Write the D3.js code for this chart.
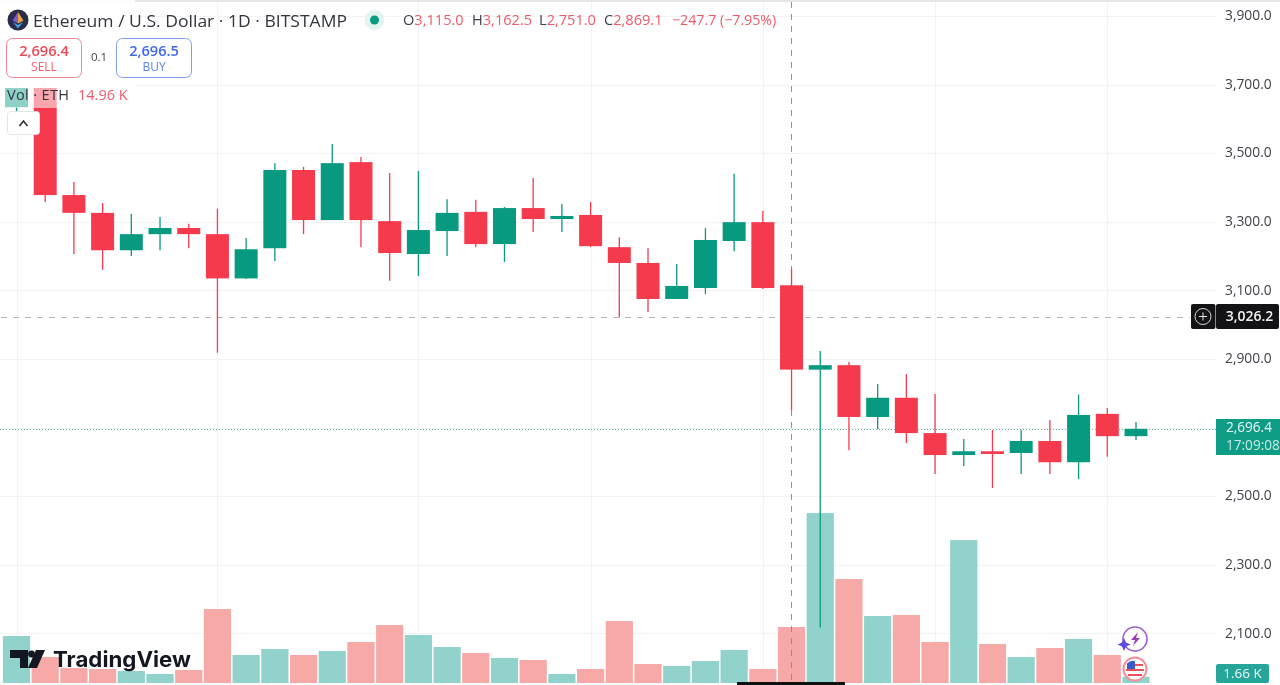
<!DOCTYPE html>
<html><head><meta charset="utf-8">
<style>html,body{margin:0;padding:0;background:#fff;overflow:hidden}svg{display:block;filter:blur(0.35px)}text{font-family:"Open Sans",sans-serif}</style>
<script src="https://cdn.jsdelivr.net/npm/d3@7"></script></head><body>
<svg id="c" width="1280" height="685"></svg>
<script>
const opens=[3634,3690,3378,3326,3217,3264,3282,3264,3135,3223,3451,3305,3474,3302,3206,3273,3329,3235,3340,3308,3320,3226,3180,3075,3107,3244,3299,3115,2869,2882,2731,2787,2684,2620,2631,2626,2661,2599,2740,2675];
const highs=[3719,3702,3416,3355,3323,3314,3294,3338,3253,3471,3460,3527,3489,3442,3448,3366,3364,3343,3428,3352,3358,3255,3223,3177,3282,3440,3332,3162.5,2923,2891,2827,2856,2798,2667,2693,2693,2722,2796,2757,2716];
const lows=[3607,3357,3206,3160,3200,3217,3223,2918,3133,3186,3264,3305,3226,3128,3142,3200,3226,3183,3270,3270,3226,3022,3037,3075,3089,3214,3104,2751,2117,2634,2696,2655,2565,2588,2524,2565,2565,2550,2615,2664];
const closes=[3690,3378,3326,3217,3264,3282,3264,3135,3220,3451,3305,3471,3305,3209,3276,3326,3235,3340,3308,3317,3229,3180,3075,3113,3247,3299,3107,2869.1,2882,2731,2787,2684,2620,2631,2623,2661,2599,2737,2675,2696.4];
const volumes=[12.55,6.94,4.0,3.74,3.2,2.4,3.47,19.76,7.48,9.08,7.48,8.54,10.95,15.49,12.82,9.61,8.01,6.68,6.14,2.4,3.74,16.55,5.07,4.54,5.87,8.81,3.74,14.96,45.4,27.77,17.89,18.16,10.95,38.18,10.41,6.94,9.35,11.75,7.48,1.66];
const priceTicks=[3900,3700,3500,3300,3100,2900,2700,2500,2300,2100];
const gridIdx=[0,7,14,20,26,32,38];
const lastPrice=2696.4, crossPrice=3026.2, crossIdx=27;

const RED="#f53a4e",GREEN="#089981",VRED="#f7a9a7",VGREEN="#92d2cc",TXT="#3f414b";
const svg=d3.select("#c");
const x=d3.scaleLinear().domain([0,39]).range([16.5,1136]);
const y=d3.scaleLinear().domain([3900,2100]).range([16,633.4]);
const v=d3.scaleLinear().domain([0,14.96]).range([683,627]);
const idx=d3.range(opens.length);
const up=i=>closes[i]>=opens[i];

// top hairline
svg.append("rect").attr("x",0).attr("y",0).attr("width",1280).attr("height",2).attr("fill","#e6e6e8");

// grid
const grid=svg.append("g").attr("stroke","#f3f3f4").attr("stroke-width",1);
grid.selectAll("line.h").data(priceTicks).join("line").attr("x1",0).attr("x2",1216)
 .attr("y1",d=>Math.round(y(d))+.5).attr("y2",d=>Math.round(y(d))+.5);
grid.selectAll("line.v").data(gridIdx).join("line").attr("x1",d=>Math.round(x(d))+.5).attr("x2",d=>Math.round(x(d))+.5).attr("y1",2).attr("y2",683);

// volume
svg.append("g").selectAll("rect").data(idx).join("rect")
 .attr("x",i=>x(i)-13.6).attr("width",27.2).attr("y",i=>v(volumes[i])).attr("height",i=>683-v(volumes[i]))
 .attr("fill",i=>up(i)?VGREEN:VRED);

// price axis
const axis=d3.axisRight(y).tickValues(priceTicks).tickSize(0).tickPadding(0).tickFormat(d3.format(",.1f"));
const ag=svg.append("g").attr("transform","translate(1225,0)").call(axis);
ag.select(".domain").remove();
ag.selectAll("text").attr("fill",TXT).style("font-size","13.8px").style("font-family",'"Open Sans",sans-serif').attr("dy","0.27em");

// crosshair and price lines (under candles)
svg.append("line").attr("x1",1).attr("x2",1190).attr("y1",317.5).attr("y2",317.5).attr("stroke","#b4b4b8").attr("stroke-dasharray","6 6");
svg.append("line").attr("x1",x(crossIdx)).attr("x2",x(crossIdx)).attr("y1",2).attr("y2",683).attr("stroke","#8f8f94").attr("stroke-dasharray","6 6");
svg.append("line").attr("x1",0).attr("x2",1216).attr("y1",Math.round(y(lastPrice))+.5).attr("y2",Math.round(y(lastPrice))+.5).attr("stroke","#5cbcae").attr("stroke-dasharray","1 2");

// candles
const cg=svg.append("g");
cg.selectAll("line").data(idx).join("line")
 .attr("x1",i=>x(i)).attr("x2",i=>x(i)).attr("y1",i=>y(highs[i])).attr("y2",i=>y(lows[i]))
 .attr("stroke",i=>up(i)?GREEN:RED).attr("stroke-width",1.3);
cg.selectAll("rect").data(idx).join("rect")
 .attr("x",i=>x(i)-11.5).attr("width",23)
 .attr("y",i=>y(Math.max(opens[i],closes[i])))
 .attr("height",i=>Math.max(1,Math.abs(y(opens[i])-y(closes[i]))))
 .attr("fill",i=>up(i)?GREEN:RED);

// legend wash
svg.append("rect").attr("x",0).attr("y",0).attr("width",135).attr("height",88).attr("fill","#fff").attr("fill-opacity",.9);
svg.append("rect").attr("x",0).attr("y",78).attr("width",135).attr("height",30).attr("fill","#fff").attr("fill-opacity",.55);

// header
const eth=svg.append("g");
eth.append("circle").attr("cx",18).attr("cy",20).attr("r",10.5).attr("fill","#2b2b4a");
eth.append("path").attr("d","M18 12 L23.5 20.5 L18 23.5 Z").attr("fill","#e8a33d");
eth.append("path").attr("d","M18 12 L12.5 20.5 L18 23.5 Z").attr("fill","#7b5bd6");
eth.append("path").attr("d","M12.8 22 L18 25 L23.2 22 L18 28.5 Z").attr("fill","#3fa7e0");
svg.append("text").attr("x",33).attr("y",27).attr("fill","#33353f").style("font-size","17px").attr("textLength",314).attr("lengthAdjust","spacingAndGlyphs").text("Ethereum / U.S. Dollar · 1D · BITSTAMP");
svg.append("circle").attr("cx",374.5).attr("cy",20).attr("r",10).attr("fill","#e3f3f0");
svg.append("circle").attr("cx",374.5).attr("cy",20).attr("r",4.5).attr("fill",GREEN);
const ohlc=[["O","3,115.0",403],["H","3,162.5",472],["L","2,751.0",539],["C","2,869.1",604]];
ohlc.forEach(([k,val,px])=>{
 const t=svg.append("text").attr("x",px).attr("y",25).style("font-size","14.6px");
 t.append("tspan").attr("fill",TXT).text(k);
 t.append("tspan").attr("fill","#ef5a68").text(val);
});
svg.append("text").attr("x",672).attr("y",25).attr("fill","#ef5a68").style("font-size","14.2px").text("−247.7 (−7.95%)");

// sell / buy
svg.append("rect").attr("x",6.5).attr("y",38.5).attr("width",75).attr("height",39).attr("rx",6).attr("fill","#fff").attr("stroke","#f4858f");
svg.append("text").attr("x",44).attr("y",56).attr("text-anchor","middle").attr("fill","#ef4655").style("font-size","14.6px").style("font-weight",600).text("2,696.4");
svg.append("text").attr("x",44).attr("y",71).attr("text-anchor","middle").attr("fill","#f2606d").style("font-size","12px").text("SELL");
svg.append("text").attr("x",99).attr("y",61).attr("text-anchor","middle").attr("fill",TXT).style("font-size","11.5px").text("0.1");
svg.append("rect").attr("x",116.5).attr("y",38.5).attr("width",75).attr("height",39).attr("rx",6).attr("fill","#fff").attr("stroke","#7f9cf0");
svg.append("text").attr("x",154).attr("y",56).attr("text-anchor","middle").attr("fill","#3f68e8").style("font-size","14.6px").style("font-weight",600).text("2,696.5");
svg.append("text").attr("x",154).attr("y",71).attr("text-anchor","middle").attr("fill","#5f83ee").style("font-size","12px").text("BUY");

// volume legend
svg.append("text").attr("x",7).attr("y",100).attr("fill","#33353f").style("font-size","14.5px").attr("textLength",62).attr("lengthAdjust","spacing").text("Vol · ETH");
svg.append("text").attr("x",78).attr("y",100).attr("fill","#ef5a68").style("font-size","14.5px").text("14.96 K");
svg.append("rect").attr("x",7.5).attr("y",111.5).attr("width",32).attr("height",23).attr("rx",3).attr("fill","#fff").attr("stroke","#e4e4e6");
svg.append("path").attr("d","M19.5 126 L23.5 121 L27.5 126").attr("fill","none").attr("stroke","#2e2e33").attr("stroke-width",1.6);

// price labels
svg.append("rect").attr("x",1191).attr("y",304).attr("width",24.5).attr("height",25).attr("rx",2).attr("fill","#131316");
svg.append("rect").attr("x",1216).attr("y",304).attr("width",63).attr("height",25).attr("rx",2).attr("fill","#131316");
svg.append("circle").attr("cx",1203).attr("cy",316.5).attr("r",8).attr("fill","none").attr("stroke","#d8d8d8");
svg.append("path").attr("d","M1199 316.5H1207M1203 312.5V320.5").attr("stroke","#e8e8e8");
svg.append("text").attr("x",1249.5).attr("y",321).attr("text-anchor","middle").attr("fill","#f2f2f2").style("font-size","14px").style("font-weight",600).text(d3.format(",.1f")(crossPrice));
svg.append("rect").attr("x",1216).attr("y",419).attr("width",64).attr("height",36).attr("fill","#0e9c86");
svg.append("text").attr("x",1226).attr("y",432).attr("fill","#eef9f6").style("font-size","13.6px").text(d3.format(",.1f")(lastPrice));
svg.append("text").attr("x",1226).attr("y",450).attr("fill","#c9ece5").style("font-size","13.6px").text("17:09:08");
svg.append("rect").attr("x",1216).attr("y",664).attr("width",53).attr("height",19).attr("rx",2).attr("fill","#26a69a");
svg.append("text").attr("x",1242.5).attr("y",678).attr("text-anchor","middle").attr("fill","#eef9f6").style("font-size","13.5px").text("1.66 K");

// TradingView logo
const logo=svg.append("g").attr("fill","#131722");
logo.append("path").attr("d","M10 650H28V668H20V658H10Z");
logo.append("circle").attr("cx",31.5).attr("cy",654).attr("r",3.4);
logo.append("path").attr("d","M36 650H45L37 668H28Z");
svg.append("text").attr("x",53).attr("y",667).attr("fill","#131722").style("font-family",'"Inter",sans-serif').style("font-size","21.5px").style("font-weight",700).attr("textLength",138).attr("lengthAdjust","spacingAndGlyphs").text("TradingView");

// floating badges
const b=svg.append("g");
b.append("circle").attr("cx",1135).attr("cy",639).attr("r",12).attr("fill","#fff").attr("stroke","#9c5cd6").attr("stroke-width",1.6);
b.append("path").attr("d","M1138 632L1131 640H1135L1133 646L1140 638H1136Z").attr("fill","#9c3fb0");
b.append("path").attr("d","M1124 638L1126 642.500L1130.500 644.500L1126 646.500L1124 651L1122 646.500L1117.500 644.500L1122 642.500Z").attr("fill","#5b4ce0");
b.append("circle").attr("cx",1135).attr("cy",669).attr("r",11.500).attr("fill","#fff").attr("stroke","#f08f96").attr("stroke-width",2);
b.append("path").attr("d","M1127 665H1143M1126 670H1144M1128 675H1142").attr("stroke","#e8505b").attr("stroke-width",2.2);
b.append("path").attr("d","M1127 669V663.500A9 9 0 0 1 1135 661V669Z").attr("fill","#3b5bc8");

// bottom black strip
svg.append("rect").attr("x",737).attr("y",682).attr("width",108).attr("height",3).attr("fill","#111");
</script>
</body></html>
